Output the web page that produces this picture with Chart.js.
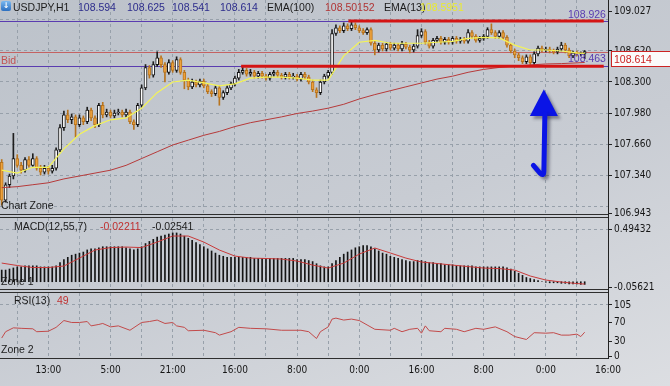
<!DOCTYPE html>
<html>
<head>
<meta charset="utf-8">
<script src="https://cdn.jsdelivr.net/npm/chart.js@4.4.1/dist/chart.umd.min.js"></script>
<style>
  body { margin: 0; }
  #wrap {
    position: relative; width: 670px; height: 386px; overflow: hidden;
    background: linear-gradient(160deg, #bcc2ca 0%, #c8ccd3 55%, #dcdee2 100%);
    font-family: "Liberation Sans", Arial, sans-serif; font-size: 10.5px; color: #1b1b1b;
  }
  canvas { position: absolute; left: 0; }
  .t { position: absolute; white-space: nowrap; line-height: 12px; }
  .sep { position: absolute; left: 0; width: 608px; height: 1px; background: #2e2e2e; }
</style>
</head>
<body>
<div id="wrap">
  <canvas id="cMain" width="670" height="222" style="top:0"></canvas>
  <canvas id="cMacd" width="670" height="84" style="top:212px"></canvas>
  <canvas id="cRsi" width="670" height="99" style="top:287px"></canvas>

  <div class="sep" style="top:214px"></div>
  <div class="sep" style="top:217px"></div>
  <div class="sep" style="top:289px"></div>
  <div class="sep" style="top:292px"></div>
  <div class="sep" style="top:358px"></div>
  <div style="position:absolute;left:608px;top:0;width:1px;height:359px;background:#222"></div>

  <div style="position:absolute;left:1px;top:1px;width:10px;height:10px;border-radius:2px;background:linear-gradient(#7ab8f0,#2c6fc0);color:#fff;font:bold 8px 'DejaVu Sans';line-height:10px;text-align:center">↓</div>
  <span class="t" style="left:13px;top:1px">USDJPY,H1</span>
  <span class="t" style="left:78px;top:1px;color:#2d2d8c">108.594</span>
  <span class="t" style="left:127px;top:1px;color:#2d2d8c">108.625</span>
  <span class="t" style="left:172px;top:1px;color:#2d2d8c">108.541</span>
  <span class="t" style="left:220px;top:1px;color:#2d2d8c">108.614</span>
  <span class="t" style="left:267px;top:1px">EMA(100)</span>
  <span class="t" style="left:325px;top:1px;color:#b03434">108.50152</span>
  <span class="t" style="left:384px;top:1px">EMA(13)</span>
  <span class="t" style="left:420px;top:1px;color:#eaea30">108.5951</span>

  <span class="t" style="left:1px;top:54px;color:#c25252">Bid</span>
  <span class="t" style="left:568px;top:8px;color:#5a3cb0">108.926</span>
  <span class="t" style="left:568px;top:52px;color:#5a3cb0">108.463</span>
  <div style="position:absolute;left:611px;top:51px;width:57px;height:14px;border:1px solid #cc2222;background:#fbfbfb;color:#cc2222;line-height:14px;padding-left:2px;box-sizing:content-box">108.614</div>

  <span class="t" style="left:1px;top:199px">Chart Zone</span>
  <span class="t" style="left:14px;top:220px">MACD(12,55,7)</span>
  <span class="t" style="left:100px;top:220px;color:#c03030">-0.02211</span>
  <span class="t" style="left:152px;top:220px">-0.02541</span>
  <span class="t" style="left:1px;top:275px">Zone 1</span>
  <span class="t" style="left:14px;top:294px">RSI(13)</span>
  <span class="t" style="left:57px;top:294px;color:#c03030">49</span>
  <span class="t" style="left:1px;top:343px">Zone 2</span>
</div>

<script>
// H1 bars, index 0 = first visible bar
const firstOpen = 107.47;
const closes = [
  107.08, 107.24, 107.33, 107.51, 107.44, 107.39, 107.50, 107.44, 107.51, 107.41,
  107.37, 107.41, 107.38, 107.41, 107.60, 107.83, 107.96, 107.91, 107.94, 107.86,
  107.93, 107.89, 108.01, 107.93, 107.86, 108.06, 107.96, 107.99, 107.95, 107.98,
  107.99, 107.96, 107.99, 107.89, 107.86, 108.06, 108.24, 108.45, 108.37, 108.48,
  108.55, 108.48, 108.40, 108.50, 108.42, 108.53, 108.40, 108.32, 108.25, 108.30,
  108.27, 108.31, 108.26, 108.20, 108.18, 108.24, 108.14, 108.19, 108.24, 108.28,
  108.34, 108.40, 108.42, 108.38, 108.40, 108.36, 108.39, 108.36, 108.34, 108.38,
  108.40, 108.37, 108.35, 108.38, 108.35, 108.36, 108.33, 108.38, 108.35, 108.30,
  108.22, 108.19, 108.30, 108.36, 108.40, 108.80, 108.86, 108.83, 108.88, 108.85,
  108.89, 108.86, 108.83, 108.81, 108.84, 108.70, 108.63, 108.68, 108.64, 108.69,
  108.65, 108.68, 108.64, 108.69, 108.66, 108.63, 108.67, 108.78, 108.82, 108.71,
  108.67, 108.73, 108.75, 108.71, 108.74, 108.71, 108.75, 108.72, 108.74, 108.72,
  108.81, 108.77, 108.73, 108.75, 108.77, 108.84, 108.81, 108.77, 108.81, 108.76,
  108.68, 108.62, 108.58, 108.55, 108.51, 108.56, 108.50, 108.59, 108.65, 108.63,
  108.64, 108.62, 108.61, 108.64, 108.68, 108.63, 108.57, 108.60, 108.59, 108.594,
  108.614
];
const highs = [
  107.50, 107.26, 107.35, 107.77, 107.55, 107.47, 107.52, 107.53, 107.56, 107.53,
  107.44, 107.44, 107.43, 107.44, 107.62, 107.86, 108.00, 108.01, 107.97, 107.96,
  107.96, 107.95, 108.04, 108.03, 107.95, 108.08, 108.09, 108.02, 108.01, 108.01,
  108.02, 108.01, 108.02, 108.01, 107.91, 108.08, 108.27, 108.48, 108.47, 108.51,
  108.61, 108.57, 108.50, 108.53, 108.52, 108.56, 108.55, 108.42, 108.34, 108.33,
  108.32, 108.33, 108.33, 108.28, 108.22, 108.26, 108.26, 108.21, 108.26, 108.30,
  108.36, 108.43, 108.45, 108.44, 108.43, 108.42, 108.41, 108.41, 108.38, 108.40,
  108.42, 108.42, 108.39, 108.40, 108.40, 108.39, 108.38, 108.40, 108.40, 108.37,
  108.32, 108.24, 108.32, 108.38, 108.42, 108.84, 108.89, 108.88, 108.91, 108.90,
  108.92, 108.91, 108.88, 108.85, 108.86, 108.86, 108.72, 108.70, 108.70, 108.71,
  108.71, 108.70, 108.70, 108.72, 108.71, 108.68, 108.69, 108.84, 108.85, 108.84,
  108.73, 108.75, 108.77, 108.77, 108.76, 108.76, 108.77, 108.77, 108.76, 108.76,
  108.84, 108.83, 108.79, 108.77, 108.79, 108.86, 108.90, 108.83, 108.83, 108.83,
  108.78, 108.70, 108.64, 108.60, 108.57, 108.58, 108.58, 108.61, 108.67, 108.67,
  108.66, 108.66, 108.64, 108.66, 108.71, 108.70, 108.65, 108.62, 108.62, 108.61,
  108.625
];
const lows = [
  107.03, 107.06, 107.21, 107.30, 107.42, 107.36, 107.37, 107.42, 107.43, 107.39,
  107.34, 107.35, 107.35, 107.36, 107.39, 107.58, 107.80, 107.88, 107.87, 107.73,
  107.84, 107.86, 107.87, 107.90, 107.83, 107.84, 107.93, 107.94, 107.93, 107.93,
  107.96, 107.94, 107.94, 107.87, 107.81, 107.84, 108.04, 108.22, 108.34, 108.35,
  108.46, 108.45, 108.30, 108.38, 108.40, 108.40, 108.38, 108.23, 108.22, 108.23,
  108.25, 108.25, 108.24, 108.18, 108.15, 108.16, 108.06, 108.12, 108.17, 108.22,
  108.26, 108.32, 108.38, 108.36, 108.36, 108.34, 108.34, 108.34, 108.32, 108.32,
  108.36, 108.35, 108.33, 108.33, 108.33, 108.33, 108.31, 108.31, 108.33, 108.28,
  108.20, 108.14, 108.17, 108.28, 108.34, 108.38, 108.78, 108.81, 108.81, 108.83,
  108.83, 108.84, 108.81, 108.79, 108.79, 108.68, 108.58, 108.61, 108.62, 108.62,
  108.63, 108.63, 108.62, 108.62, 108.64, 108.60, 108.61, 108.65, 108.76, 108.69,
  108.65, 108.65, 108.71, 108.69, 108.69, 108.69, 108.69, 108.70, 108.70, 108.70,
  108.70, 108.75, 108.71, 108.71, 108.73, 108.75, 108.79, 108.75, 108.75, 108.74,
  108.66, 108.60, 108.55, 108.52, 108.49, 108.49, 108.47, 108.48, 108.57, 108.61,
  108.61, 108.60, 108.59, 108.59, 108.62, 108.60, 108.55, 108.55, 108.57, 108.57,
  108.541
];

// indicator lines read at these bars
const sampleBars = [0, 4, 8, 12, 16, 20, 24, 28, 32, 36, 40, 44, 48, 52, 56, 60, 64, 68, 72, 76,
  80, 84, 88, 92, 96, 100, 104, 108, 112, 116, 120, 124, 128, 132, 136, 140, 144, 148, 150];
const ema13 = [107.39, 107.36, 107.42, 107.42, 107.61, 107.76, 107.85, 107.91, 107.93, 108.03,
  108.19, 108.30, 108.32, 108.29, 108.26, 108.28, 108.34, 108.35, 108.35, 108.34,
  108.32, 108.32, 108.57, 108.71, 108.73, 108.70, 108.70, 108.70, 108.71, 108.72,
  108.75, 108.76, 108.755, 108.68, 108.63, 108.63, 108.62, 108.60, 108.5951];
const ema100 = [107.21, 107.22, 107.24, 107.26, 107.30, 107.33, 107.36, 107.39, 107.44, 107.51,
  107.58, 107.65, 107.70, 107.75, 107.79, 107.84, 107.88, 107.91, 107.94, 107.975,
  108.00, 108.03, 108.07, 108.125, 108.17, 108.21, 108.25, 108.29, 108.33, 108.36,
  108.40, 108.43, 108.45, 108.465, 108.476, 108.486, 108.49, 108.497, 108.50152];
const macdSignal = [0.176, 0.153, 0.134, 0.134, 0.148, 0.223, 0.299, 0.322, 0.327, 0.322,
  0.374, 0.431, 0.431, 0.374, 0.299, 0.242, 0.223, 0.219, 0.214, 0.195,
  0.157, 0.129, 0.176, 0.261, 0.318, 0.271, 0.223, 0.186, 0.172, 0.157,
  0.143, 0.129, 0.124, 0.110, 0.054, 0.016, -0.003, -0.017, -0.02211];

// MACD main, one value per bar
const macdMain = [
  0.11, 0.11, 0.12, 0.13, 0.14, 0.14, 0.15, 0.15, 0.15, 0.15,
  0.14, 0.14, 0.14, 0.14, 0.15, 0.18, 0.21, 0.23, 0.25, 0.26,
  0.27, 0.28, 0.30, 0.31, 0.31, 0.32, 0.33, 0.33, 0.33, 0.33,
  0.33, 0.33, 0.32, 0.31, 0.30, 0.31, 0.33, 0.36, 0.38, 0.40,
  0.42, 0.43, 0.44, 0.45, 0.46, 0.46, 0.45, 0.43, 0.41, 0.39,
  0.37, 0.35, 0.33, 0.31, 0.29, 0.27, 0.25, 0.24, 0.23, 0.23,
  0.23, 0.23, 0.23, 0.23, 0.23, 0.22, 0.22, 0.22, 0.22, 0.22,
  0.22, 0.22, 0.22, 0.22, 0.22, 0.22, 0.21, 0.21, 0.21, 0.20,
  0.19, 0.17, 0.15, 0.14, 0.14, 0.17, 0.20, 0.23, 0.26, 0.28,
  0.30, 0.32, 0.33, 0.34, 0.34, 0.33, 0.31, 0.29, 0.27, 0.26,
  0.24, 0.23, 0.22, 0.21, 0.20, 0.19, 0.19, 0.20, 0.20, 0.19,
  0.18, 0.18, 0.17, 0.17, 0.16, 0.16, 0.16, 0.15, 0.15, 0.15,
  0.15, 0.15, 0.14, 0.14, 0.14, 0.14, 0.14, 0.14, 0.14, 0.14,
  0.13, 0.12, 0.10, 0.08, 0.06, 0.04, 0.03, 0.02, 0.01, 0.00,
  -0.005, -0.01, -0.01, -0.01, -0.015, -0.015, -0.02, -0.02, -0.02, -0.025,
  -0.02541
];

const rsiBars = [0, 1, 3, 5, 8, 9, 12, 14, 16, 18, 20, 22, 23, 25, 26, 28, 30, 33, 36, 38,
  40, 42, 44, 45, 47, 48, 52, 55, 56, 59, 61, 64, 68, 72, 77, 79, 81, 82, 84, 85,
  86, 88, 90, 92, 94, 96, 100, 101, 103, 105, 107, 108, 109, 110, 113, 114, 117, 119, 122, 124,
  127, 130, 132, 135, 137, 140, 142, 144, 146, 148, 149, 150];
const rsiVals = [37, 50, 58, 57, 56, 50, 51, 59, 73, 69, 69, 71, 62, 65, 67, 60, 62, 53, 69, 71,
  74, 67, 69, 62, 59, 52, 53, 48, 43, 50, 59, 57, 56, 53, 53, 50, 36, 50, 60, 76,
  78, 74, 76, 73, 64, 55, 53, 57, 50, 55, 57, 47, 62, 52, 50, 57, 55, 50, 57, 55,
  60, 50, 40, 34, 48, 47, 48, 43, 43, 45, 40, 49];

// axes
const gridBars = [4, 12, 20, 28, 36, 44, 52, 60, 68, 76, 84, 92, 100, 108, 116, 124, 132, 140, 148, 156];
const labelBars = [12, 28, 44, 60, 76, 92, 108, 124, 140, 156];
const timeLabels = ["13:00", "5:00", "21:00", "16:00", "8:00", "0:00", "16:00", "8:00", "0:00", "16:00"];
const priceTicks = [106.943, 107.02, 107.34, 107.66, 107.98, 108.30, 108.62, 108.94, 109.027];
const priceLabelled = [106.943, 107.34, 107.66, 107.98, 108.30, 108.62, 109.027];
const macdTicks = [-0.05621, 0.49432];
const rsiTicks = [0, 30, 70, 105];

// chart objects
const levelLines = [108.926, 108.463];
const bidPrice = 108.614;
const trendFrom = [89.2, 61.6];
const trendTo = [154.9, 154.9];
const trendPrice = [108.93, 108.463];

const opens = closes.map((c, i) => i === 0 ? firstOpen : closes[i - 1]);
const bull = closes.map((c, i) => c >= opens[i]);

const GRID = "#97a0aa";
const AXIS_FONT = { family: "'DejaVu Sans Condensed', 'Liberation Sans Narrow', 'Liberation Sans', sans-serif", size: 10 };

function noPad(s) {
  s.paddingTop = 0; s.paddingBottom = 0; s.paddingLeft = 0; s.paddingRight = 0;
}

function xAxis(showLabels) {
  return {
    type: "linear", min: -0.44, max: 156, offset: false,
    afterBuildTicks: s => { s.ticks = gridBars.map(v => ({ value: v })); },
    grid: { color: GRID, drawTicks: false, offset: false },
    border: { display: false, dash: [3, 3] },
    ticks: {
      display: showLabels, autoSkip: false, maxRotation: 0, padding: 6,
      color: "#151515", font: AXIS_FONT,
      callback: v => { const k = labelBars.indexOf(v); return k < 0 ? "" : timeLabels[k]; }
    },
    afterFit: s => { s.height = showLabels ? 28 : 0; noPad(s); }
  };
}

function yAxis(min, max, ticks, fmt, gridded, labelled) {
  return {
    position: "right", min, max,
    afterBuildTicks: s => { s.ticks = ticks.map(v => ({ value: v })); },
    grid: {
      color: c => gridded.includes(c.tick && c.tick.value) ? GRID : "rgba(0,0,0,0)",
      tickColor: c => labelled.includes(c.tick && c.tick.value) ? "#222" : "rgba(0,0,0,0)",
      tickLength: 4
    },
    border: { display: false, dash: [3, 3] },
    ticks: {
      autoSkip: false, padding: 2, color: "#151515", font: AXIS_FONT,
      callback: v => labelled.includes(v) ? fmt(v) : ""
    },
    afterFit: s => { s.width = 62; noPad(s); }
  };
}

function baseOptions(padding, scales) {
  return {
    responsive: false, animation: false, devicePixelRatio: 1, events: [],
    layout: { padding, autoPadding: false },
    plugins: { legend: { display: false }, tooltip: { enabled: false } },
    scales
  };
}

const mtObjects = {
  id: "mtObjects",
  beforeDatasetsDraw(chart) {
    const { ctx, chartArea: a, scales: { y } } = chart;
    ctx.save();
    ctx.lineWidth = 1;
    const hline = (p, col) => {
      const py = Math.round(y.getPixelForValue(p)) + 0.5;
      ctx.strokeStyle = col;
      ctx.beginPath(); ctx.moveTo(a.left, py); ctx.lineTo(a.right, py); ctx.stroke();
    };
    levelLines.forEach(p => hline(p, "#5a3cb0"));
    hline(bidPrice, "#c46262");
    ctx.restore();
  },
  afterDatasetsDraw(chart) {
    const { ctx, scales: { x, y } } = chart;
    ctx.save();
    // drawn trend lines
    ctx.strokeStyle = "#d41414";
    ctx.lineWidth = 3;
    trendPrice.forEach((p, k) => {
      const py = y.getPixelForValue(p);
      ctx.beginPath();
      ctx.moveTo(x.getPixelForValue(trendFrom[k]), py);
      ctx.lineTo(x.getPixelForValue(trendTo[k]), py);
      ctx.stroke();
    });
    // blue arrow
    const ax = x.getPixelForValue(139.5);
    const tipY = y.getPixelForValue(108.225);
    const baseY = y.getPixelForValue(107.949);
    const half = 3.6 * (x.getPixelForValue(1) - x.getPixelForValue(0));
    const botY = y.getPixelForValue(107.33);
    const hookX = x.getPixelForValue(136.8);
    const hookY = y.getPixelForValue(107.44);
    ctx.shadowColor = "rgba(40,40,60,0.45)";
    ctx.shadowOffsetX = 3; ctx.shadowOffsetY = 3; ctx.shadowBlur = 3;
    ctx.fillStyle = "#0a14e6";
    ctx.beginPath();
    ctx.moveTo(ax, tipY); ctx.lineTo(ax + half, baseY); ctx.lineTo(ax - half, baseY);
    ctx.closePath(); ctx.fill();
    ctx.strokeStyle = "#0a14e6";
    ctx.lineWidth = 5; ctx.lineCap = "round"; ctx.lineJoin = "round";
    ctx.beginPath();
    ctx.moveTo(ax + 1, baseY - 2);
    ctx.lineTo(ax, botY - 5);
    ctx.quadraticCurveTo(ax, botY + 1, ax - 4, botY - 3);
    ctx.lineTo(hookX, hookY);
    ctx.stroke();
    ctx.restore();
  }
};

new Chart(document.getElementById("cMain"), {
  type: "bar",
  data: {
    datasets: [
      { type: "line", data: sampleBars.map((b, k) => ({ x: b, y: ema13[k] })),
        borderColor: "#f4f456", borderWidth: 1.2, pointRadius: 0 },
      { type: "line", data: sampleBars.map((b, k) => ({ x: b, y: ema100[k] })),
        borderColor: "#b63a3a", borderWidth: 1, pointRadius: 0 },
      { data: closes.map((c, i) => ({ x: i, y: [opens[i], c] })),
        backgroundColor: bull.map(b => b ? "#ffffff" : "#eda23c"),
        borderColor: bull.map(b => b ? "#151515" : "#b8741e"),
        borderWidth: 1, borderSkipped: false, barThickness: 3, grouped: false },
      { data: highs.map((h, i) => ({ x: i, y: [lows[i], h] })),
        backgroundColor: bull.map(b => b ? "#1e1e1e" : "#b8741e"),
        borderWidth: 0, barThickness: 1, grouped: false }
    ]
  },
  options: baseOptions({ top: 0, bottom: 8, left: 0, right: 0 }, {
    x: xAxis(false),
    y: yAxis(106.938, 109.146, priceTicks, v => v.toFixed(3),
      [107.02, 107.34, 107.66, 107.98, 108.30, 108.62, 108.94], priceLabelled)
  }),
  plugins: [mtObjects]
});

new Chart(document.getElementById("cMacd"), {
  type: "bar",
  data: {
    datasets: [
      { type: "line", data: sampleBars.map((b, k) => ({ x: b, y: macdSignal[k] })),
        borderColor: "#c93a3a", borderWidth: 1, pointRadius: 0 },
      { data: macdMain.map((v, i) => ({ x: i, y: v })),
        backgroundColor: "#141414", borderWidth: 0, barThickness: 1, grouped: false }
    ]
  },
  options: baseOptions({ top: 6, bottom: 7, left: 0, right: 0 }, {
    x: xAxis(false),
    y: yAxis(-0.0685, 0.6009, macdTicks, v => v.toFixed(5), [0.49432], macdTicks)
  })
});

new Chart(document.getElementById("cRsi"), {
  type: "line",
  data: {
    datasets: [
      { data: rsiBars.map((b, k) => ({ x: b, y: rsiVals[k] })),
        borderColor: "#c24a4a", borderWidth: 1, pointRadius: 0 }
    ]
  },
  options: baseOptions({ top: 6, bottom: 0, left: 0, right: 0 }, {
    x: xAxis(true),
    y: yAxis(-4.1, 129.7, rsiTicks, v => String(v), [105], rsiTicks)
  })
});
</script>
</body>
</html>
